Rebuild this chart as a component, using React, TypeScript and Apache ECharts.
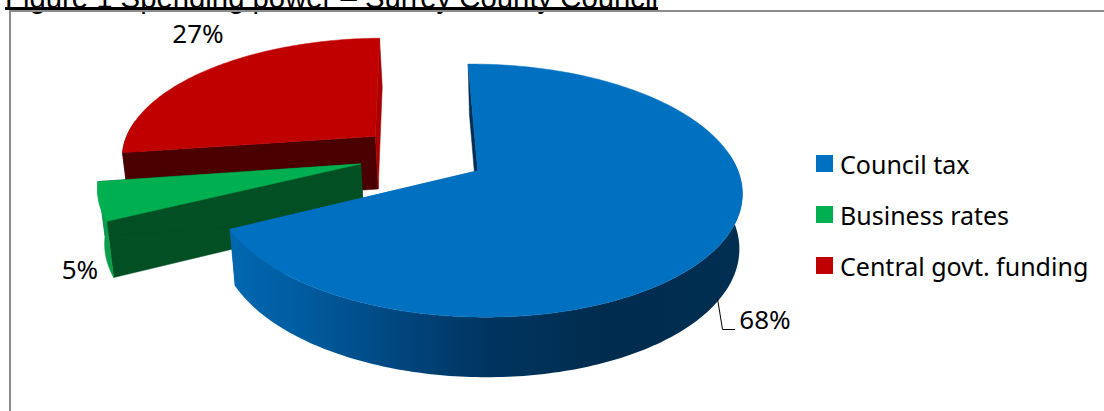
import React, { useEffect, useRef } from "react";
import * as echarts from "echarts";

// Funding shares in percent, in the clockwise order the slices are laid out
const categories = ["Council tax", "Business rates", "Central govt. funding"];
const shares = [68, 5, 27];
const topColors = ["#0070C0", "#00B050", "#C00000"];
const rimColors: any[] = [
  new echarts.graphic.LinearGradient(0, 0, 1, 0, [
    { offset: 0, color: "#0068B0" },
    { offset: 0.14, color: "#005CA0" },
    { offset: 0.33, color: "#00467E" },
    { offset: 0.5, color: "#003560" },
    { offset: 0.74, color: "#002C4E" },
    { offset: 1, color: "#002F52" },
  ]),
  "#0A9E4B",
  "#4A0000",
];
const cutColors = [
  ["#002F52", "#0068B0"], // side walls of the slice: first edge, last edge
  ["#024F24", "#024F24"],
  ["#4A0000", "#A80000"],
];
const labelSpots = [
  [765, 319],
  [80, 269],
  [198, 33],
];

const START_ANGLE = -1;
const EXPLODE = 0.25;
const STEP = 1;

// Tilted-plane projection of the pie; plane units are one pie radius
const PROJ = {
  perspective: 0.154,
  shear: 0.008,
  top: { x0: 422.5, y0: 155, rx: 255, ry: 118.5 },
  bottom: { x0: 424.5, y0: 208.5, rx: 251, ry: 123.3 },
};
// The outer wall only shows where it turns towards the viewer
const RIM_VISIBLE_BELOW = 0.15;

type Pt = [number, number];

function project(u: number, v: number, level: "top" | "bottom"): Pt {
  const face = PROJ[level];
  const s = 1 / (1 + PROJ.perspective * v);
  return [face.x0 + face.rx * (u + PROJ.shear * v) * s, face.y0 - face.ry * v * s];
}

function sliceGeometry(index: number) {
  const total = shares.reduce((a, b) => a + b, 0);
  const before = shares.slice(0, index).reduce((a, b) => a + b, 0);
  const from = START_ANGLE + (before / total) * 360;
  const to = from + (shares[index] / total) * 360;
  const mid = ((from + to) / 2) * (Math.PI / 180);
  const cu = EXPLODE * Math.sin(mid);
  const cv = EXPLODE * Math.cos(mid);
  const arc: Pt[] = [];
  for (let a = from; a < to; a += STEP) {
    const r = (a * Math.PI) / 180;
    arc.push([cu + Math.sin(r), cv + Math.cos(r)]);
  }
  const e = (to * Math.PI) / 180;
  arc.push([cu + Math.sin(e), cv + Math.cos(e)]);
  return { apex: [cu, cv] as Pt, arc };
}

const poly = (points: Pt[], fill: any) => ({
  type: "polygon",
  shape: { points },
  style: { fill, stroke: fill instanceof Object ? undefined : fill, lineWidth: 0.5 },
});

function renderSlice(index: number) {
  const { apex, arc } = sliceGeometry(index);
  const top = (p: Pt) => project(p[0], p[1], "top");
  const low = (p: Pt) => project(p[0], p[1], "bottom");
  const first = arc[0];
  const last = arc[arc.length - 1];
  const rim = arc.filter((p) => p[1] - apex[1] < RIM_VISIBLE_BELOW);
  const children: any[] = [
    poly([top(apex), top(first), low(first), low(apex)], cutColors[index][0]),
    poly([top(apex), top(last), low(last), low(apex)], cutColors[index][1]),
    poly([...rim.map(top), ...rim.slice().reverse().map(low)], rimColors[index]),
    poly([top(apex), ...arc.map(top)], topColors[index]),
    {
      type: "text",
      style: {
        x: labelSpots[index][0],
        y: labelSpots[index][1],
        text: `${shares[index]}%`,
        fill: "#000",
        font: "26px 'Noto Sans'",
        align: "center",
        verticalAlign: "middle",
      },
    },
  ];
  return { type: "group", children };
}

export default function App() {
  const ref = useRef<HTMLDivElement>(null);

  useEffect(() => {
    const chart = echarts.init(ref.current!, null, { renderer: "svg" });
    chart.setOption({
      animation: false,
      backgroundColor: "#fff",
      legend: {
        data: categories,
        orient: "vertical",
        left: 816,
        top: 151,
        padding: 0,
        icon: "rect",
        itemWidth: 17,
        itemHeight: 17,
        itemGap: 26,
        selectedMode: false,
        itemStyle: { borderWidth: 0 },
        textStyle: {
          fontFamily: "Noto Sans",
          fontSize: 25,
          color: "#000",
          lineHeight: 24,
          padding: [0, 0, 0, 2],
        },
      },
      // Drawn back to front: red behind green, blue over both
      series: [2, 1, 0].map((index, order) => ({
        type: "custom",
        name: categories[index],
        coordinateSystem: "none",
        z: order + 2,
        silent: true,
        itemStyle: { color: topColors[index] },
        data: [shares[index]],
        renderItem: () => renderSlice(index),
      })),
      graphic: [
        {
          type: "text",
          x: 5,
          y: 12,
          z: 1,
          style: {
            text: "Figure 1 Spending power – Surrey County Council",
            font: "29.3px 'Liberation Sans'",
            fill: "#000",
            verticalAlign: "bottom",
          },
        },
        { type: "rect", z: 1, shape: { x: 5, y: 7, width: 653, height: 3 }, style: { fill: "#000" } },
        { type: "rect", z: 1, shape: { x: 9, y: 10, width: 1095, height: 2 }, style: { fill: "#8C8C8C" } },
        { type: "rect", z: 1, shape: { x: 9, y: 10, width: 2, height: 401 }, style: { fill: "#8C8C8C" } },
        {
          type: "polyline",
          z: 8,
          shape: { points: [[717.5, 298.5], [722.5, 329.5], [735, 329.5]] },
          style: { stroke: "#000", lineWidth: 1, fill: "none" },
        },
      ],
    });
    return () => chart.dispose();
  }, []);

  return <div ref={ref} style={{ position: "absolute", left: 0, top: 0, width: 1104, height: 411 }} />;
}
